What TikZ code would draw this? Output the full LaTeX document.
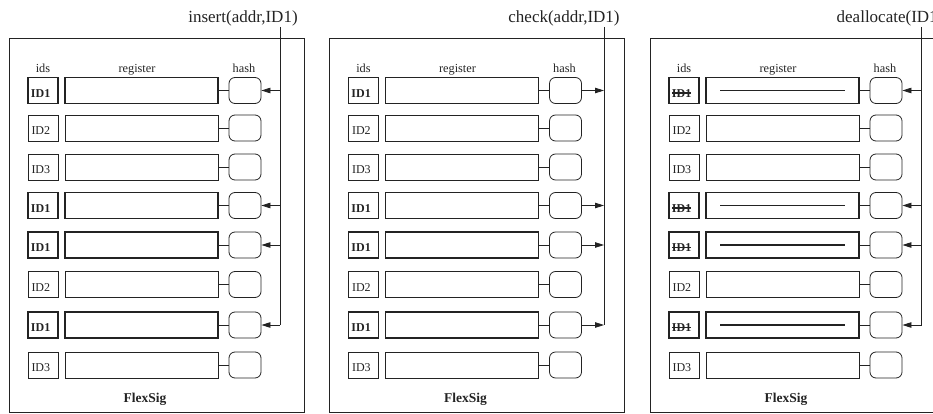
\documentclass[tikz,border=0pt]{standalone}
\usepackage{fontspec}
\setmainfont{Liberation Serif}
\usetikzlibrary{arrows.meta}

\definecolor{ink}{RGB}{35,35,35}

% bold text with a horizontal bar struck through it
\newcommand{\struckout}[1]{\setbox0\hbox{#1}\rlap{\rule[0.3em]{\wd0}{1.2pt}}\box0}

\tikzset{
  wire/.style={draw=ink, line width=0.8pt},
  tip/.style={-{Triangle[length=9pt,width=5.5pt]}},
  panelbox/.style={draw=ink, line width=0.9pt, minimum width=295pt, minimum height=373.5pt, inner sep=0pt},
  idbox/.style={draw=ink, minimum width=30pt, minimum height=26pt, inner sep=0pt},
  regbox/.style={draw=ink, minimum width=153pt, minimum height=26pt, inner sep=0pt},
  hashbox/.style={draw=ink, line width=0.8pt, rounded corners=6pt, minimum width=32pt, minimum height=26pt, inner sep=0pt},
  idtext/.style={anchor=base west, inner sep=0pt, text=ink, font=\fontsize{12}{12}\selectfont},
  coltext/.style={anchor=base, inner sep=0pt, text=ink, font=\fontsize{12.3}{12.3}\selectfont},
  optext/.style={anchor=base, inner sep=0pt, text=ink, font=\fontsize{17}{17}\selectfont},
  nametext/.style={anchor=base, inner sep=0pt, text=ink, font=\fontsize{13.5}{13.5}\selectfont\bfseries},
}

% one FlexSig block: #1 name prefix, #2 struck ids (0/1), #3 register bar (0/1)
\newcommand{\flexblock}[3]{%
  \node[panelbox] (#1-box) at (156.5,225.25) {};
  \node[coltext] (#1-ids) at (43,72.5) {ids};
  \node[coltext] (#1-reg) at (137,72.5) {register};
  \node[coltext] (#1-hash) at (244,72.5) {hash};
  \node[nametext] (#1-name) at (145,402) {FlexSig};
  \foreach \r/\y/\t/\h in {1/90.5/1/1, 2/128/2/0, 3/167/3/0, 4/205.5/1/1,
                           5/245/1/1, 6/284.5/2/0, 7/325/1/1, 8/365/3/0} {
    \pgfmathsetmacro\bw{\h==1 ? 1.9 : 0.8}
    \node[idbox, line width=\bw pt] (#1-id\r) at (43,\y) {};
    \node[regbox, line width=\bw pt] (#1-reg\r) at (141.5,\y) {};
    \node[hashbox] (#1-hash\r) at (245,\y) {};
    \draw[wire] (#1-reg\r.east) -- (#1-hash\r.west);
    \ifnum\h=1
      \ifnum#2=1
        \node[idtext] (#1-idt\r) at ([shift={(3.7,6.7)}]#1-id\r.west) {\struckout{\bfseries ID1}};
      \else
        \node[idtext] (#1-idt\r) at ([shift={(3.7,6.7)}]#1-id\r.west) {\bfseries ID1};
      \fi
      \ifnum#3=1
        \draw[wire, line width=1.3pt] ([xshift=15pt]#1-reg\r.west) -- ([xshift=-15pt]#1-reg\r.east);
      \fi
    \else
      \node[idtext] (#1-idt\r) at ([shift={(3.7,6.7)}]#1-id\r.west) {ID\t};
    \fi
  }
}

\begin{document}
\begin{tikzpicture}[x=1pt, y=-1pt]
\useasboundingbox (0,0) rectangle (933,414);
\clip (0,0) rectangle (933,414);

% ---------- insert
\begin{scope}
  \flexblock{p1}{0}{0}
  \node[optext] (p1-op) at (243,22.5) {insert(addr,ID1)};
  \coordinate (p1-top) at (280,27);
  \draw[wire] (p1-top) -- (p1-top |- p1-hash7.east);
  \foreach \r in {1,4,5,7}
    \draw[wire, tip] (p1-top |- p1-hash\r.east) -- (p1-hash\r.east);
\end{scope}

% ---------- check
\begin{scope}[shift={(320.5,0)}]
  \flexblock{p2}{0}{0}
  \node[optext] (p2-op) at (243.5,22.5) {check(addr,ID1)};
  \coordinate (p2-top) at (283.5,27);
  \draw[wire] (p2-top) -- (p2-top |- p2-hash7.east);
  \foreach \r in {1,4,5,7}
    \draw[wire, tip] (p2-hash\r.east) -- (p2-top |- p2-hash\r.east);
\end{scope}

% ---------- deallocate
\begin{scope}[shift={(641,0)}]
  \flexblock{p3}{1}{1}
  \node[optext] (p3-op) at (249,22.5) {deallocate(ID1)};
  \coordinate (p3-top) at (280.5,27);
  \draw[wire] (p3-top) -- (p3-top |- p3-hash7.east);
  \foreach \r in {1,4,5,7}
    \draw[wire, tip] (p3-top |- p3-hash\r.east) -- (p3-hash\r.east);
\end{scope}
\end{tikzpicture}
\end{document}
